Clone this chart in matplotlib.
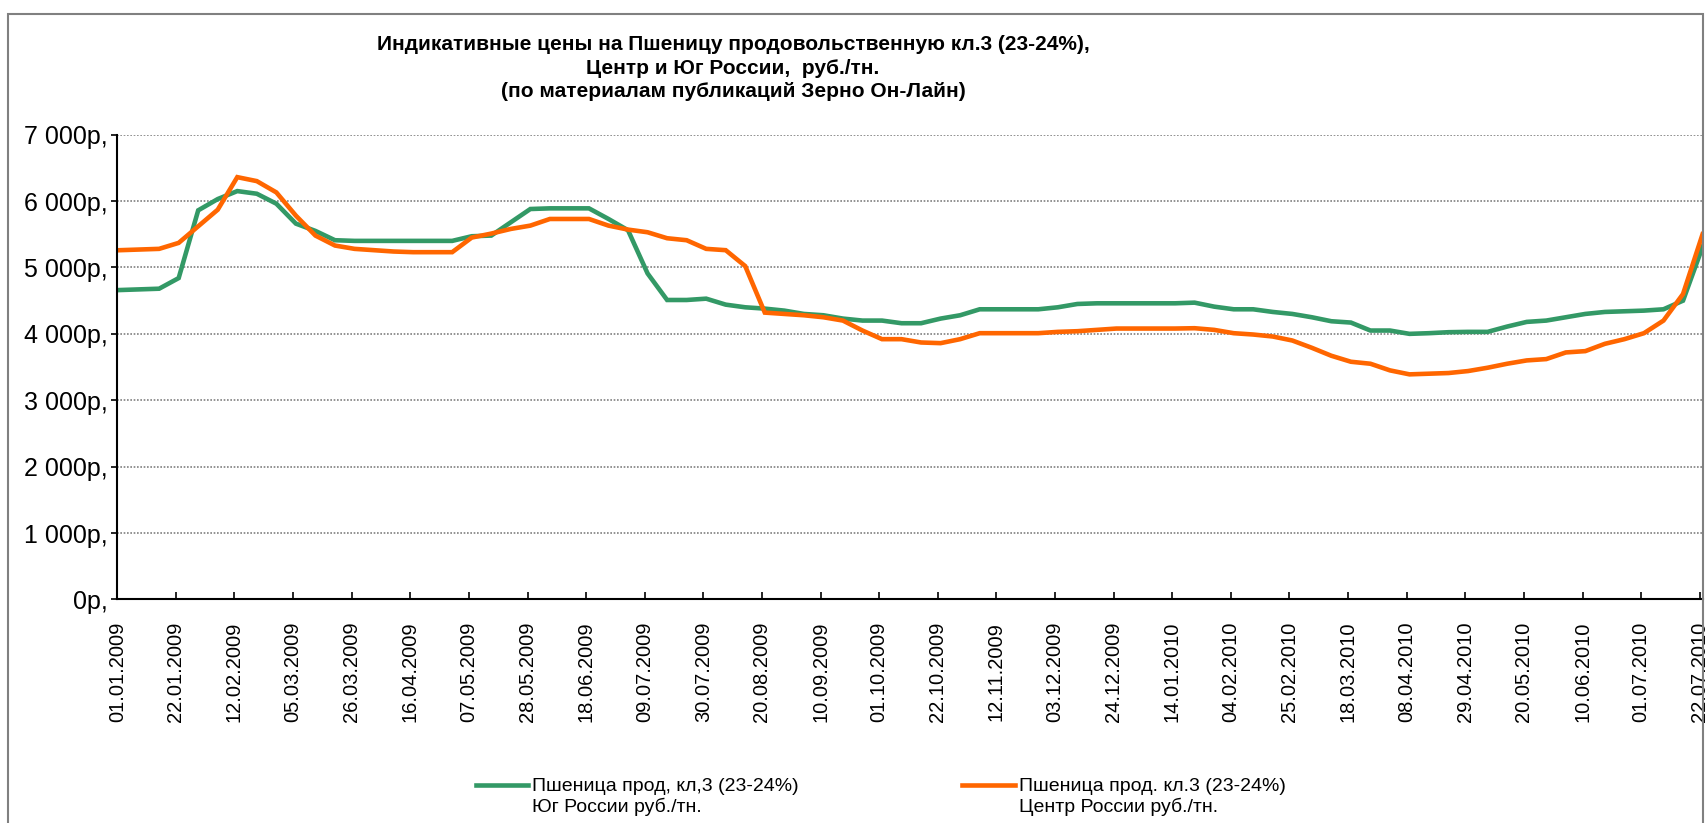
import matplotlib
matplotlib.use("Agg")
import matplotlib.pyplot as plt
import matplotlib.dates as mdates
import matplotlib.patches as patches
import numpy as np
import pandas as pd
from matplotlib.legend_handler import HandlerLine2D
from matplotlib.lines import Line2D
from matplotlib.ticker import FuncFormatter

plt.rcParams['font.family'] = ['Liberation Sans', 'DejaVu Sans']

# Weekly (Friday) observations
dates = pd.date_range('2009-01-02', periods=82, freq='7D')

# Southern Russia, rub/t
south = [4660, 4670, 4680, 4840, 5860, 6030, 6150, 6110, 5960, 5660,
         5550, 5410, 5400, 5400, 5400, 5400, 5400, 5400, 5470, 5480,
         5680, 5880, 5890, 5890, 5890, 5730, 5560, 4910, 4510, 4510,
         4530, 4440, 4400, 4380, 4350, 4300, 4280, 4230, 4200, 4200,
         4160, 4160, 4230, 4280, 4370, 4370, 4370, 4370, 4400, 4450,
         4460, 4460, 4460, 4460, 4460, 4470, 4410, 4370, 4370, 4330,
         4300, 4250, 4190, 4170, 4050, 4050, 4000, 4010, 4025, 4030,
         4030, 4110, 4180, 4200, 4250, 4300, 4330, 4340, 4350, 4370,
         4500, 5310]

# Central Russia, rub/t
centre = [5260, 5270, 5280, 5370, 5620, 5870, 6360, 6300, 6130, 5780,
          5480, 5330, 5280, 5260, 5240, 5230, 5230, 5230, 5450, 5510,
          5580, 5630, 5730, 5730, 5730, 5630, 5570, 5530, 5440, 5410,
          5280, 5260, 5020, 4320, 4300, 4280, 4250, 4200, 4050, 3920,
          3920, 3870, 3860, 3920, 4010, 4010, 4010, 4010, 4030, 4040,
          4060, 4080, 4080, 4080, 4080, 4085, 4060, 4010, 3990, 3960,
          3900, 3790, 3670, 3580, 3550, 3450, 3390, 3400, 3410, 3440,
          3490, 3550, 3600, 3620, 3720, 3740, 3850, 3920, 4010, 4200,
          4600, 5500]

labels = ['Пшеница прод, кл,3 (23-24%)\nЮг России руб./тн.',
          'Пшеница прод. кл.3 (23-24%)\nЦентр России руб./тн.']
title = ('Индикативные цены на Пшеницу продовольственную кл.3 (23-24%),\n'
         'Центр и Юг России,  руб./тн.\n'
         '(по материалам публикаций Зерно Он-Лайн)')


class FirstLineHandler(HandlerLine2D):
    """Legend line aligned with the first line of a two-line label."""

    def create_artists(self, legend, orig_handle, xdescent, ydescent,
                       width, height, fontsize, trans):
        artists = super().create_artists(legend, orig_handle, xdescent,
                                         ydescent, width, height,
                                         fontsize, trans)
        for a in artists:
            if isinstance(a, Line2D):
                a.set_ydata(np.asarray(a.get_ydata()) + 0.6 * fontsize)
        return artists


fig = plt.figure(figsize=(17.07, 8.23), dpi=100)
ax = fig.add_axes([0.0687, 0.2716, 0.9287, 0.5648])

l1, = ax.plot(dates, south, color='#339966', lw=3.3, solid_joinstyle='miter')
l2, = ax.plot(dates, centre, color='#FF6600', lw=3.3, solid_joinstyle='miter')

# Axes ranges and ticks
ax.set_ylim(0, 7000)
ax.set_yticks(np.arange(0, 7001, 1000))
ax.yaxis.set_major_formatter(FuncFormatter(
    lambda v, p: f"{v:,.0f}".replace(',', ' ') + 'р,'))
ax.set_xlim(pd.Timestamp('2009-01-01'), pd.Timestamp('2010-07-23'))
ax.set_xticks(pd.date_range('2009-01-01', '2010-07-23', freq='21D'))
ax.xaxis.set_major_formatter(mdates.DateFormatter('%d.%m.%Y'))

ax.tick_params(axis='y', direction='out', length=4, width=1.2, pad=3,
               labelsize=18)
ax.tick_params(axis='x', direction='in', length=5, width=1.2, pad=16,
               labelsize=14.5, labelrotation=90)

ax.grid(axis='y', color='#808080', linestyle=(0, (1, 1)), lw=1.2)
ax.set_axisbelow(True)
for side in ['top', 'right']:
    ax.spines[side].set_visible(False)
ax.spines['left'].set_linewidth(1.5)
ax.spines['bottom'].set_linewidth(1.5)

# Title
fig.text(733 / 1707, 1 - 35 / 823, title, ha='center', va='top',
         fontsize=15, fontweight='bold', linespacing=1.3)

# Legend
fig.legend([l1, l2], labels, loc='upper left',
           bbox_to_anchor=(468 / 1707, 1 - 770 / 823), ncol=2,
           frameon=False, fontsize=14, handlelength=2.7,
           handletextpad=0.2, columnspacing=8.4, borderaxespad=0,
           labelspacing=0.2, handler_map={Line2D: FirstLineHandler()})

# Chart border
fig.add_artist(patches.Rectangle((8 / 1707, -0.05), (1703 - 8) / 1707,
                                 (823 - 14) / 823 + 0.05,
                                 transform=fig.transFigure, fill=False,
                                 edgecolor='#808080', lw=1.5))

fig.savefig('out.png', dpi=100)
